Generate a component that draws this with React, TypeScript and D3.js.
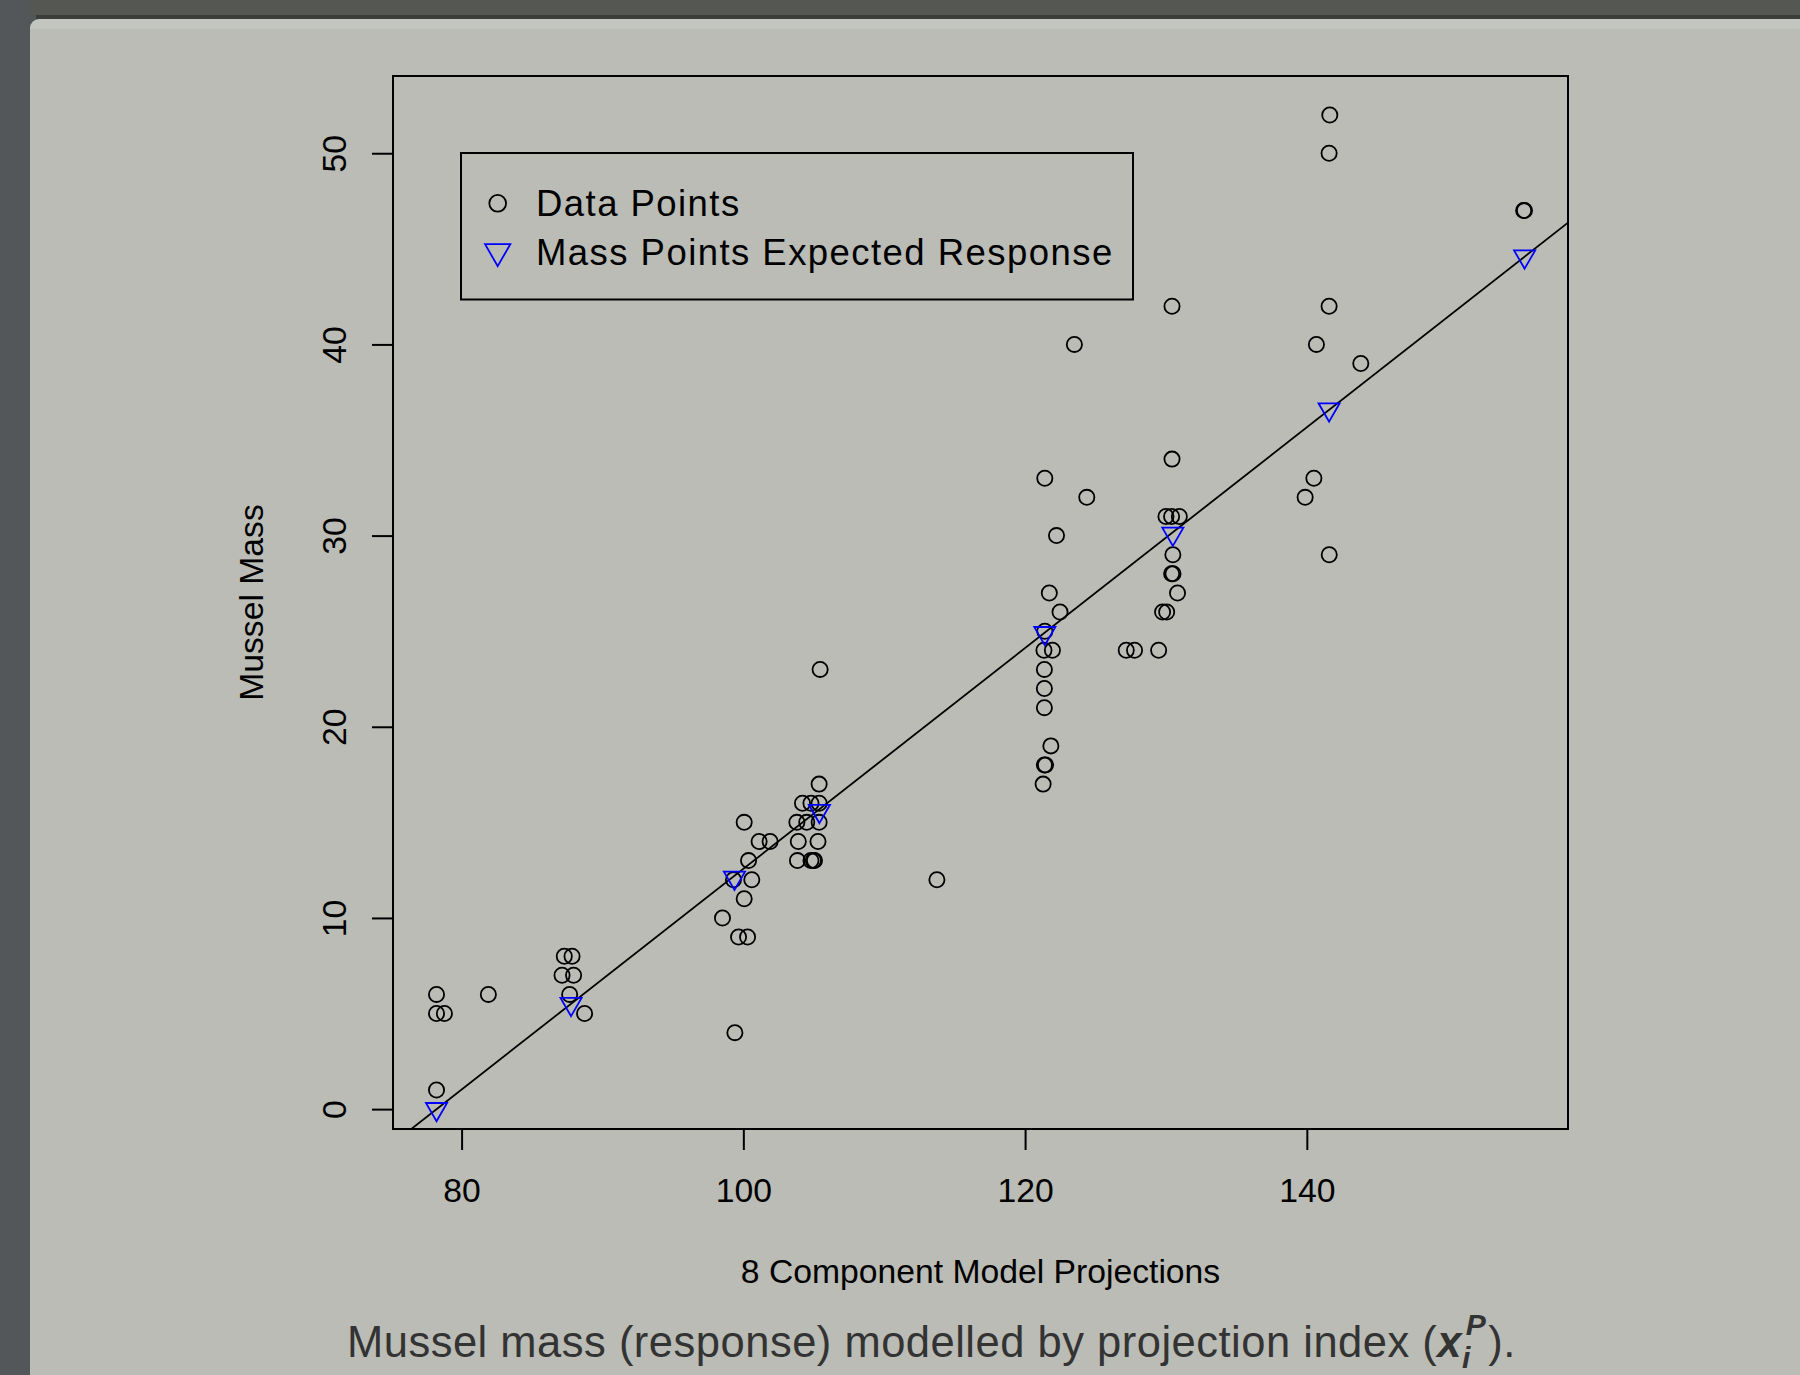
import React, { useEffect, useRef } from 'react';
import * as d3 from 'd3';

// observed mussel mass vs 8 component projection
const dataX = [
  78.22, 78.22, 78.78, 78.22, 81.9,
  87.29, 87.84, 87.13, 87.95, 87.67, 88.73,
  99.4, 98.52, 100.06, 101.12, 101.9, 100.37, 100.6, 99.3, 100.06, 99.66, 100.3,
  105.38, 104.2, 104.8, 105.38, 103.8, 104.5, 105.38, 103.9, 105.3, 103.84, 104.8, 104.97, 105.05, 105.45,
  113.74,
  121.4, 124.38, 122.23, 123.5, 121.72, 122.48, 121.4, 121.34, 121.94, 121.37, 121.37, 121.37, 121.83, 121.37, 121.45, 121.28,
  127.18, 127.77, 129.48, 130.43, 130.0, 130.4, 130.95, 130.49, 130.4, 130.5, 130.82, 129.76, 130.05, 130.43,
  141.63, 141.58, 141.58, 140.68, 143.83, 140.5, 139.88, 141.59,
  155.39, 155.45,
];
const dataY = [
  6, 5, 5, 1, 6,
  8, 8, 7, 7, 6, 5,
  4, 10, 15, 14, 14, 13, 12, 12, 11, 9, 9,
  17, 16, 16, 16, 15, 15, 15, 14, 14, 13, 13, 13, 13, 23,
  12,
  33, 32, 30, 40, 27, 26, 25, 24, 24, 23, 22, 21, 19, 18, 18, 17,
  24, 24, 24, 34, 31, 31, 31, 29, 28, 28, 27, 26, 26, 42,
  52, 50, 42, 40, 39, 33, 32, 29,
  47, 47,
];

// expected response at the mass points
const massX = [78.22, 87.77, 99.37, 105.4, 121.4, 130.49, 141.58, 155.46];
const massY = [0.0, 5.5, 12.1, 15.6, 24.9, 30.1, 36.6, 44.6];

// fitted line: intercept, slope
const fitCoef = [-45.17, 0.5774];

const xTicks = [80, 100, 120, 140];
const yTicks = [0, 10, 20, 30, 40, 50];

const legendLabels = ['Data Points', 'Mass Points Expected Response'];

const W = 1800;
const H = 1375;
const plot = { left: 393, right: 1568, top: 76, bottom: 1129 };
const FONT = '"Liberation Sans", Arial, Helvetica, sans-serif';
const AXIS_FS = '33.7px';

// R style 4% axis expansion
const rExpand = (ext) => {
  const d = (ext[1] - ext[0]) * 0.04;
  return [ext[0] - d, ext[1] + d];
};

// pch 6 (down triangle), centred on centroid
const downTri = (cx, cy, r) => {
  const hw = (r * Math.sqrt(3)) / 2;
  return `M${cx},${cy + r}L${cx + hw},${cy - r / 2}L${cx - hw},${cy - r / 2}Z`;
};

const App = () => {
  const svgRef = useRef(null);

  useEffect(() => {
    const svg = d3.select(svgRef.current);
    svg.selectAll('*').remove();

    // page / panel background
    svg.append('rect').attr('width', W).attr('height', H).attr('fill', '#53575a');
    svg.append('rect').attr('x', 30).attr('y', 0).attr('width', W).attr('height', 16).attr('fill', '#555752');
    svg.append('rect').attr('x', 36).attr('y', 15).attr('width', W).attr('height', 4).attr('fill', '#3b3d3a');
    svg.append('rect').attr('x', 30).attr('y', 19).attr('width', W).attr('height', H).attr('rx', 9)
      .attr('fill', '#c3c5c1');
    svg.append('rect').attr('x', 30).attr('y', 29).attr('width', W).attr('height', H).attr('fill', '#babcb5');

    const x = d3.scaleLinear().domain(rExpand(d3.extent(dataX))).range([plot.left, plot.right]);
    const y = d3.scaleLinear().domain(rExpand(d3.extent(dataY))).range([plot.bottom, plot.top]);

    svg.append('defs').append('clipPath').attr('id', 'plot-clip')
      .append('rect')
      .attr('x', plot.left).attr('y', plot.top)
      .attr('width', plot.right - plot.left).attr('height', plot.bottom - plot.top);

    // fitted line (abline)
    const [x0, x1] = x.domain();
    svg.append('line')
      .attr('clip-path', 'url(#plot-clip)')
      .attr('x1', x(x0)).attr('y1', y(fitCoef[0] + fitCoef[1] * x0))
      .attr('x2', x(x1)).attr('y2', y(fitCoef[0] + fitCoef[1] * x1))
      .attr('stroke', '#000').attr('stroke-width', 1.8);

    // data points
    svg.append('g').selectAll('circle')
      .data(dataX.map((d, i) => [d, dataY[i]]))
      .enter().append('circle')
      .attr('cx', d => x(d[0]))
      .attr('cy', d => y(d[1]))
      .attr('r', 7.6)
      .attr('fill', 'none')
      .attr('stroke', '#000')
      .attr('stroke-width', 1.8);

    // mass points
    svg.append('g').selectAll('path')
      .data(massX.map((d, i) => [d, massY[i]]))
      .enter().append('path')
      .attr('d', d => downTri(x(d[0]), y(d[1]), 12.2))
      .attr('fill', 'none')
      .attr('stroke', '#0000ff')
      .attr('stroke-width', 1.8);

    // box
    svg.append('rect')
      .attr('x', plot.left).attr('y', plot.top)
      .attr('width', plot.right - plot.left).attr('height', plot.bottom - plot.top)
      .attr('fill', 'none').attr('stroke', '#000').attr('stroke-width', 2);

    // x axis
    const gx = svg.append('g')
      .attr('transform', `translate(0,${plot.bottom})`)
      .call(d3.axisBottom(x).tickValues(xTicks).tickSize(21).tickPadding(0).tickSizeOuter(0));
    gx.select('.domain').remove();
    gx.selectAll('line').attr('stroke', '#000').attr('stroke-width', 2);
    gx.selectAll('text')
      .attr('y', 73).attr('dy', 0)
      .attr('fill', '#000')
      .style('font-family', FONT).style('font-size', AXIS_FS);

    // y axis
    const gy = svg.append('g')
      .attr('transform', `translate(${plot.left},0)`)
      .call(d3.axisLeft(y).tickValues(yTicks).tickSize(21).tickSizeOuter(0));
    gy.select('.domain').remove();
    gy.selectAll('line').attr('stroke', '#000').attr('stroke-width', 2);
    gy.selectAll('text')
      .attr('transform', 'rotate(-90)')
      .attr('x', 0).attr('y', -47).attr('dy', 0)
      .attr('fill', '#000')
      .style('text-anchor', 'middle')
      .style('font-family', FONT).style('font-size', AXIS_FS);

    // axis titles
    svg.append('text')
      .attr('x', (plot.left + plot.right) / 2).attr('y', 1283)
      .attr('text-anchor', 'middle')
      .style('font-family', FONT).style('font-size', AXIS_FS)
      .text('8 Component Model Projections');

    const yMid = (plot.top + plot.bottom) / 2;
    svg.append('text')
      .attr('transform', `translate(263,${yMid}) rotate(-90)`)
      .attr('text-anchor', 'middle')
      .style('font-family', FONT).style('font-size', AXIS_FS)
      .text('Mussel Mass');

    // legend
    const lg = svg.append('g');
    lg.append('rect')
      .attr('x', 461).attr('y', 153).attr('width', 672).attr('height', 146.5)
      .attr('fill', 'none').attr('stroke', '#000').attr('stroke-width', 2);
    lg.append('circle')
      .attr('cx', 497.7).attr('cy', 203.3).attr('r', 8.4)
      .attr('fill', 'none').attr('stroke', '#000').attr('stroke-width', 1.8);
    lg.append('path')
      .attr('d', downTri(497.7, 251.5, 14.6))
      .attr('fill', 'none').attr('stroke', '#0000ff').attr('stroke-width', 1.8);
    lg.selectAll('text')
      .data(legendLabels)
      .enter().append('text')
      .attr('x', 536)
      .attr('y', (d, i) => 215.7 + i * 49.3)
      .style('font-family', FONT).style('font-size', '36.5px')
      .style('letter-spacing', '1.45px')
      .text(d => d);

    // caption
    const cap = svg.append('text')
      .attr('x', 347).attr('y', 1356.7)
      .attr('fill', '#333')
      .style('font-family', FONT).style('font-size', '43.5px')
      .style('letter-spacing', '0.5px');
    cap.append('tspan').text('Mussel mass (response) modelled by projection index (');
    cap.append('tspan').style('font-weight', 'bold').style('font-style', 'italic').text('x');
    cap.append('tspan').attr('dy', 11).style('font-size', '30px')
      .style('font-weight', 'bold').style('font-style', 'italic').text('i');
    cap.append('tspan').attr('dx', -5).attr('dy', -33).style('font-size', '30px')
      .style('font-weight', 'bold').style('font-style', 'italic').text('P');
    cap.append('tspan').attr('dx', 2).attr('dy', 22).text(').');
  }, []);

  return (
    <div style={{ position: 'absolute', left: 0, top: 0 }}>
      <svg ref={svgRef} width={W} height={H} style={{ display: 'block' }} />
    </div>
  );
};

export default App;
